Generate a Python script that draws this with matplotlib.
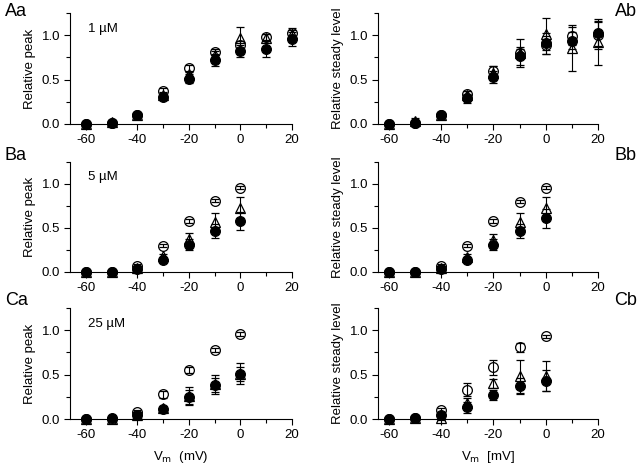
import matplotlib
matplotlib.use("Agg")
import matplotlib.pyplot as plt
from matplotlib.ticker import MultipleLocator

plt.rcParams['font.family'] = ['Liberation Sans', 'DejaVu Sans']
plt.rcParams['axes.unicode_minus'] = False

# ---- data ----
V_A = [-60, -50, -40, -30, -20, -10, 0, 10, 20]
V_BC = [-60, -50, -40, -30, -20, -10, 0]

# Aa (1 uM, relative peak)
circ_Aa = [0.00, 0.01, 0.10, 0.37, 0.63, 0.81, 0.89, 0.98, 1.03]
circ_Aa_err = [0.01, 0.01, 0.02, 0.03, 0.04, 0.03, 0.04, 0.03, 0.03]
tri_Aa = [0.00, 0.02, 0.10, 0.33, 0.56, 0.78, 0.97, 0.97, 1.01]
tri_Aa_err = [0.01, 0.02, 0.02, 0.03, 0.04, 0.04, 0.12, 0.04, 0.07]
fill_Aa = [0.00, 0.01, 0.10, 0.30, 0.51, 0.72, 0.82, 0.85, 0.96]
fill_Aa_err = [0.01, 0.01, 0.02, 0.03, 0.05, 0.07, 0.07, 0.09, 0.08]

# Ab (1 uM, relative steady level)
circ_Ab = [0.00, 0.01, 0.10, 0.34, 0.60, 0.80, 0.89, 0.99, 1.00]
circ_Ab_err = [0.01, 0.02, 0.02, 0.03, 0.05, 0.05, 0.10, 0.10, 0.15]
tri_Ab = [0.00, 0.03, 0.10, 0.33, 0.57, 0.80, 1.01, 0.86, 0.92]
tri_Ab_err = [0.02, 0.04, 0.03, 0.04, 0.08, 0.16, 0.18, 0.26, 0.26]
fill_Ab = [0.00, 0.01, 0.10, 0.29, 0.53, 0.77, 0.91, 0.94, 1.02]
fill_Ab_err = [0.01, 0.01, 0.02, 0.05, 0.07, 0.10, 0.12, 0.10, 0.14]

# Ba (5 uM, relative peak)
circ_Ba = [0.00, 0.00, 0.07, 0.30, 0.58, 0.81, 0.96]
circ_Ba_err = [0.01, 0.01, 0.02, 0.02, 0.02, 0.02, 0.02]
tri_Ba = [0.00, 0.00, 0.05, 0.18, 0.37, 0.57, 0.73]
tri_Ba_err = [0.01, 0.01, 0.02, 0.03, 0.07, 0.10, 0.12]
fill_Ba = [0.00, 0.00, 0.03, 0.14, 0.31, 0.47, 0.58]
fill_Ba_err = [0.01, 0.01, 0.02, 0.03, 0.06, 0.08, 0.10]

# Bb (5 uM, relative steady level)
circ_Bb = [0.00, 0.00, 0.07, 0.30, 0.58, 0.80, 0.96]
circ_Bb_err = [0.01, 0.01, 0.02, 0.02, 0.02, 0.02, 0.02]
tri_Bb = [0.00, 0.00, 0.05, 0.17, 0.36, 0.57, 0.73]
tri_Bb_err = [0.01, 0.01, 0.02, 0.03, 0.07, 0.10, 0.12]
fill_Bb = [0.00, 0.00, 0.03, 0.14, 0.31, 0.47, 0.61]
fill_Bb_err = [0.01, 0.01, 0.02, 0.03, 0.06, 0.08, 0.11]

# Ca (25 uM, relative peak)
circ_Ca = [0.00, 0.00, 0.08, 0.28, 0.55, 0.78, 0.96]
circ_Ca_err = [0.01, 0.01, 0.02, 0.04, 0.03, 0.02, 0.02]
tri_Ca = [0.00, 0.00, 0.05, 0.12, 0.26, 0.39, 0.51]
tri_Ca_err = [0.01, 0.01, 0.03, 0.03, 0.10, 0.11, 0.12]
fill_Ca = [0.00, 0.01, 0.04, 0.11, 0.25, 0.38, 0.51]
fill_Ca_err = [0.01, 0.01, 0.02, 0.03, 0.08, 0.08, 0.08]

# Cb (25 uM, relative steady level)
circ_Cb = [0.00, 0.01, 0.10, 0.33, 0.58, 0.81, 0.93]
circ_Cb_err = [0.01, 0.01, 0.02, 0.07, 0.08, 0.05, 0.02]
tri_Cb = [0.00, 0.01, 0.01, 0.18, 0.40, 0.48, 0.48]
tri_Cb_err = [0.01, 0.01, 0.02, 0.06, 0.05, 0.19, 0.17]
fill_Cb = [0.00, 0.01, 0.05, 0.13, 0.27, 0.37, 0.43]
fill_Cb_err = [0.01, 0.01, 0.03, 0.06, 0.06, 0.09, 0.12]

panels = [
    ("Aa", V_A, circ_Aa, circ_Aa_err, tri_Aa, tri_Aa_err, fill_Aa, fill_Aa_err),
    ("Ab", V_A, circ_Ab, circ_Ab_err, tri_Ab, tri_Ab_err, fill_Ab, fill_Ab_err),
    ("Ba", V_BC, circ_Ba, circ_Ba_err, tri_Ba, tri_Ba_err, fill_Ba, fill_Ba_err),
    ("Bb", V_BC, circ_Bb, circ_Bb_err, tri_Bb, tri_Bb_err, fill_Bb, fill_Bb_err),
    ("Ca", V_BC, circ_Ca, circ_Ca_err, tri_Ca, tri_Ca_err, fill_Ca, fill_Ca_err),
    ("Cb", V_BC, circ_Cb, circ_Cb_err, tri_Cb, tri_Cb_err, fill_Cb, fill_Cb_err),
]
conc_labels = {"Aa": "1 µM", "Ba": "5 µM", "Ca": "25 µM"}

W, H = 640, 469
fig = plt.figure(figsize=(W / 100, H / 100), dpi=100)

col_px = {"a": (70, 292, -66.2), "b": (378, 598, -64.2)}
row_px = {"A": (13, 124), "B": (162, 272), "C": (308, 419)}

axes = {}
for (name, V, c, ce, t, te, f, fe) in panels:
    x0, x1, xmin = col_px[name[1]]
    ytop, ybot = row_px[name[0]]
    ax = fig.add_axes([x0 / W, 1 - ybot / H, (x1 - x0) / W, (ybot - ytop) / H])
    axes[name] = ax
    kw = dict(linestyle='none', capsize=3, elinewidth=0.8, capthick=0.8,
              ecolor='black', markersize=7, clip_on=False)
    ax.errorbar(V, c, yerr=ce, fmt='o', mfc='none', mec='black', mew=0.9, zorder=3, **kw)
    ax.errorbar(V, t, yerr=te, fmt='^', mfc='none', mec='black', mew=0.9, zorder=3, **kw)
    ax.errorbar(V, f, yerr=fe, fmt='o', mfc='black', mec='black', mew=0.9, zorder=4, **kw)

    ax.set_xlim(xmin, 20)
    ax.set_ylim(0, 1.25)
    ax.spines['top'].set_visible(False)
    ax.spines['right'].set_visible(False)
    ax.xaxis.set_minor_locator(MultipleLocator(10))
    ax.yaxis.set_minor_locator(MultipleLocator(0.25))
    ax.set_xticks([-60, -40, -20, 0, 20])
    ax.set_yticks([0, 0.5, 1.0])
    ax.set_yticklabels(["0.0", "0.5", "1.0"])
    ax.tick_params(which='major', direction='out', length=4, width=0.8, labelsize=9.5, pad=3)
    ax.tick_params(which='minor', direction='out', length=3, width=0.8)
    for s in ax.spines.values():
        s.set_linewidth(0.8)
    ax.set_ylabel("Relative peak" if name[1] == "a" else "Relative steady level", fontsize=9.5, labelpad=4)
    if name in conc_labels:
        ax.text(0.08, 0.86, conc_labels[name], transform=ax.transAxes, fontsize=9.5,
                ha='left', va='center')

axes["Ca"].set_xlabel("V$_{\\mathrm{m}}$  (mV)", fontsize=9.5, labelpad=6)
axes["Cb"].set_xlabel("V$_{\\mathrm{m}}$  [mV]", fontsize=9.5, labelpad=6)

# panel letters
fig.text(5 / W, 1 - 11 / H, "Aa", fontsize=13, ha='left', va='center')
fig.text(5 / W, 1 - 155 / H, "Ba", fontsize=13, ha='left', va='center')
fig.text(5 / W, 1 - 300 / H, "Ca", fontsize=13, ha='left', va='center')
fig.text(637 / W, 1 - 11 / H, "Ab", fontsize=13, ha='right', va='center')
fig.text(637 / W, 1 - 155 / H, "Bb", fontsize=13, ha='right', va='center')
fig.text(637 / W, 1 - 300 / H, "Cb", fontsize=13, ha='right', va='center')

fig.savefig("out.png", dpi=100)
